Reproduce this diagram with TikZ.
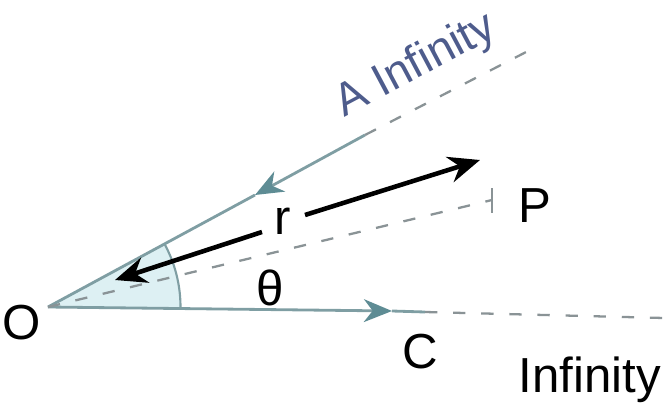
\documentclass[tikz,border=0pt]{standalone}
\usepackage{fontspec}
\setmainfont{Liberation Sans}
\usetikzlibrary{positioning, arrows.meta, calc}
\definecolor{raygray}{HTML}{7F9EA3}
\definecolor{raytip}{HTML}{5E8C94}
\definecolor{dashgray}{HTML}{8A9396}
\definecolor{anglefill}{HTML}{DDF0F3}
\definecolor{infblue}{HTML}{4E5C8C}

\begin{document}
\begin{tikzpicture}[
      every node/.style={font=\fontsize{28}{32}\selectfont},
      ray/.style={draw=raygray, line width=1.6pt},
      raytipped/.style={ray, -{Stealth[length=16pt, width=13pt, inset=5pt, color=raytip]}},
      farline/.style={draw=dashgray, line width=1.3pt, dash pattern=on 7pt off 9pt},
      radius/.style={draw=black, line width=2.6pt, -{Stealth[length=18pt, width=15pt, inset=6pt]}},
    ]
    \useasboundingbox (0,0) rectangle (13.28,8.22);

    % Points
    \coordinate (O)     at (0.96, 2.08);
    \coordinate (Amid)  at (5.10, 4.32);
    \coordinate (A)     at (7.30, 5.52);
    \coordinate (Ainf)  at (10.60, 7.22);
    \coordinate (Cmid)  at (7.84, 2.00);
    \coordinate (C)     at (8.50, 1.98);
    \coordinate (Cinf)  at (13.28, 1.86);
    \coordinate (P)     at (9.84, 4.22);

    % Angle
    \fill[anglefill] (O) -- ++(0:2.65) arc (0:28:2.65) -- cycle;
    \draw[raygray, line width=1.2pt] ($(O)+(0:2.65)$) arc (0:28:2.65);

    % Rays
    \draw[raytipped] (A) -- (Amid);
    \draw[ray] (Amid) -- (O);
    \draw[farline] (A) -- (Ainf);
    \draw[raytipped] (O) -- (Cmid);
    \draw[ray] (Cmid) -- (C);
    \draw[farline] (C) -- (Cinf);
    \draw[farline] (O) -- (P);
    \draw[dashgray, line width=1pt] ($(P)+(0,-0.25)$) -- ($(P)+(0,0.25)$);

    % Radius arrows
    \node (r) at (5.66, 3.80) {r};
    \coordinate (rup)  at (9.60, 5.02);
    \coordinate (rlow) at (2.30, 2.62);
    \draw[radius] (6.10, 3.92) -- (rup);
    \draw[radius] (5.24, 3.58) -- (rlow);

    % Labels
    \node (Olabel) at (0.44, 1.76) {O};
    \node (Clabel) at (8.40, 1.18) {C};
    \node (Plabel) at (10.70, 4.10) {P};
    \node (theta)  at (5.40, 2.46) {θ};
    \node (inf)    at (11.80, 0.62) {Infinity};
    \node[text=infblue, rotate=28, font=\fontsize{26}{30}\selectfont] (Alabel) at (8.32, 6.90) {A Infinity};
  \end{tikzpicture}
\end{document}
